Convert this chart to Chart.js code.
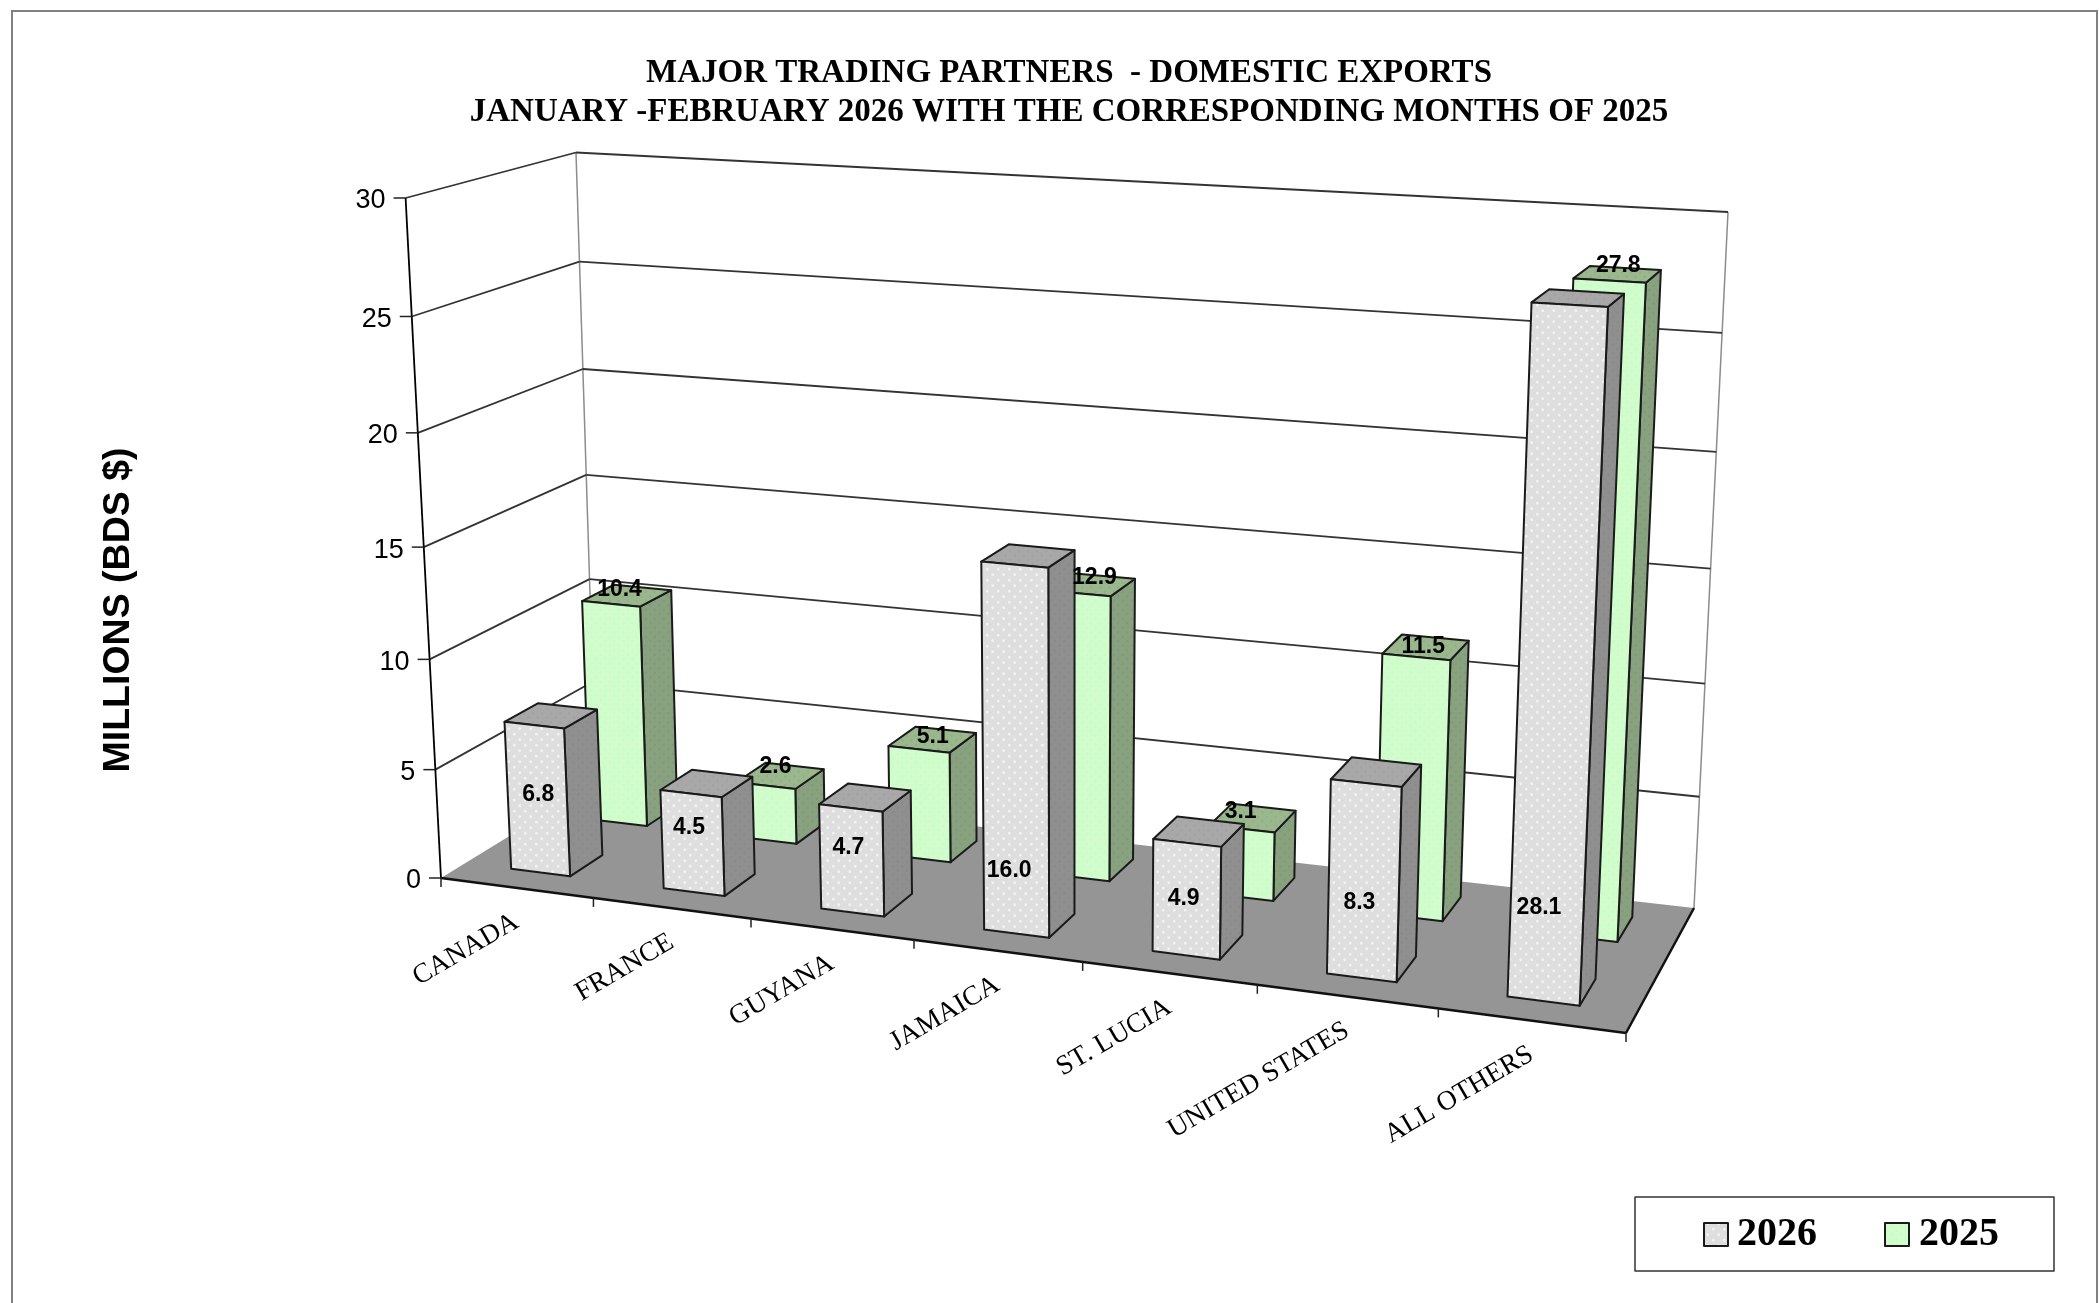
<!DOCTYPE html>
<html>
<head>
<meta charset="utf-8">
<style>
  html, body { margin: 0; padding: 0; background: #fff; overflow: hidden; }
  #c { display: block; }
</style>
<script src="https://cdn.jsdelivr.net/npm/chart.js@4"></script>
</head>
<body>
<canvas id="c" width="2099" height="1303"></canvas>
<script>
const categories = ['CANADA', 'FRANCE', 'GUYANA', 'JAMAICA', 'ST. LUCIA', 'UNITED STATES', 'ALL OTHERS']
const values2026 = [6.8, 4.5, 4.7, 16.0, 4.9, 8.3, 28.1]
const values2025 = [10.4, 2.6, 5.1, 12.9, 3.1, 11.5, 27.8]
const axisMax = 30, axisStep = 5
// the labels were placed by hand in the original, so they get their own offsets
const labelLift = [3.59, 2.97, 2.91, 2.79, 2.5, 3.25, 3.96]
const labelNudge2026 = [1, -3, -3, -7, -3, -4, -8]
const labelNudge2025 = [[-23, 1], [-19, 0], [-13, 6], [-9, 1], [-23, 4], [-12, 8], [-7, -3]]

const titleLines = ['MAJOR TRADING PARTNERS  - DOMESTIC EXPORTS', 'JANUARY -FEBRUARY 2026 WITH THE CORRESPONDING MONTHS OF 2025']
const yTitle = 'MILLIONS (BDS $)'

// screen corners of the 3D box: [left-bottom, right-bottom, right-top, left-top]
const frontCorners = [[441, 878], [1626, 1033], [1660, 269.5], [405.6, 198]]
const backCorners = [[596, 783], [1694, 908], [1728, 212], [576, 152.5]]
const depthK = 1.07

const homography = (q) => {
  const [[x0, y0], [x1, y1], [x2, y2], [x3, y3]] = q
  const dx1 = x1 - x2, dx2 = x3 - x2, sx = x0 - x1 + x2 - x3
  const dy1 = y1 - y2, dy2 = y3 - y2, sy = y0 - y1 + y2 - y3
  const den = dx1 * dy2 - dx2 * dy1
  const g = (sx * dy2 - dx2 * sy) / den, h = (dx1 * sy - sx * dy1) / den
  const a = x1 - x0 + g * x1, b = x3 - x0 + h * x3
  const d = y1 - y0 + g * y1, e = y3 - y0 + h * y3
  return (u, v) => {
    const n = g * u + h * v + 1
    return [(a * u + b * v + x0) / n, (d * u + e * v + y0) / n]
  }
}
const onFront = homography(frontCorners), onBack = homography(backCorners)

// u along the categories, v up the value axis, w into the depth, all 0..1
const project = (u, v, w) => {
  const f = onFront(u, v), b = onBack(u, v)
  const t = w * depthK / (1 - w + w * depthK)
  return [f[0] + (b[0] - f[0]) * t, f[1] + (b[1] - f[1]) * t]
}

const makePattern = (ctx, base, dot, size) => {
  const c = document.createElement('canvas')
  c.width = c.height = size
  const p = c.getContext('2d')
  p.fillStyle = base
  p.fillRect(0, 0, size, size)
  p.fillStyle = dot
  p.beginPath()
  p.arc(size * 0.25, size * 0.25, size * 0.13, 0, 7)
  p.arc(size * 0.75, size * 0.75, size * 0.13, 0, 7)
  p.fill()
  return ctx.createPattern(c, 'repeat')
}

const poly = (ctx, pts, fill, stroke, lw) => {
  ctx.beginPath()
  pts.forEach((p, i) => i ? ctx.lineTo(p[0], p[1]) : ctx.moveTo(p[0], p[1]))
  ctx.closePath()
  if (fill) { ctx.fillStyle = fill; ctx.fill() }
  if (stroke) { ctx.strokeStyle = stroke; ctx.lineWidth = lw; ctx.stroke() }
}
const line = (ctx, a, b, color, lw) => {
  ctx.beginPath()
  ctx.moveTo(a[0], a[1])
  ctx.lineTo(b[0], b[1])
  ctx.strokeStyle = color
  ctx.lineWidth = lw
  ctx.stroke()
}
const text = (ctx, str, x, y, font, align, rot) => {
  ctx.save()
  ctx.translate(x, y)
  if (rot) ctx.rotate(rot)
  ctx.font = font
  ctx.fillStyle = '#000'
  ctx.textAlign = align
  ctx.textBaseline = 'middle'
  ctx.fillText(str, 0, 0)
  ctx.restore()
}

const drawFrame = (chart, uOf, vOf) => {
  const ctx = chart.ctx
  const ys = chart.scales.y, xs = chart.scales.x
  poly(ctx, [[12, 1400], [12, 11], [2097, 11], [2097, 1400]], null, '#808080', 2)

  // floor
  poly(ctx, [project(0, 0, 0), project(1, 0, 0), project(1, 0, 1), project(0, 0, 1)], '#959595')

  // walls
  line(ctx, project(0, 0, 1), project(0, 1, 1), '#8c8c8c', 1.5)
  line(ctx, project(1, 0, 1), project(1, 1, 1), '#8c8c8c', 1.5)
  ys.ticks.forEach(t => {
    const v = vOf(ys.getPixelForValue(t.value))
    if (t.value > 0) {
      line(ctx, project(0, v, 0), project(0, v, 1), '#333', 1.8)
      line(ctx, project(0, v, 1), project(1, v, 1), '#333', 1.8)
    }
  })
  // value axis and its ticks
  line(ctx, project(0, 0, 0), project(0, 1, 0), '#000', 1.8)
  ys.ticks.forEach(t => {
    const p = project(0, vOf(ys.getPixelForValue(t.value)), 0)
    line(ctx, [p[0] - 12, p[1]], p, '#222', 1.5)
    text(ctx, String(t.value), p[0] - 20, p[1] + 3, '27px "Liberation Sans"', 'right')
  })
  // floor edges and category ticks
  line(ctx, project(0, 0, 0), project(1, 0, 0), '#111', 2.5)
  line(ctx, project(1, 0, 0), project(1, 0, 1), '#111', 2.5)
  const count = categories.length
  for (let i = 0; i <= count; i++) {
    const p = project(uOf(xs.left + i * xs.width / count), 0, 0)
    line(ctx, p, [p[0], p[1] + 9], '#222', 1.5)
  }
  xs.ticks.forEach((t, i) => {
    const p = project(uOf(xs.getPixelForValue(i)), 0, 0)
    text(ctx, categories[i], p[0], p[1] + 32, '27.5px "Liberation Serif"', 'right', -0.53)
  })
}

const drawBars = (chart, uOf, vOf, dsIndex, rowFront, rowBack, skin) => {
  const ctx = chart.ctx
  chart.getDatasetMeta(dsIndex).data.forEach(bar => {
    const l = uOf(bar.x - bar.width / 2), r = uOf(bar.x + bar.width / 2)
    const v0 = vOf(bar.base), v1 = vOf(bar.y)
    ctx.lineJoin = 'round'
    const lw = 2, ink = '#1a1a1a'
    poly(ctx, [project(r, v0, rowFront), project(r, v0, rowBack), project(r, v1, rowBack), project(r, v1, rowFront)], skin.side, ink, lw)
    poly(ctx, [project(l, v1, rowFront), project(r, v1, rowFront), project(r, v1, rowBack), project(l, v1, rowBack)], skin.top, ink, lw)
    poly(ctx, [project(l, v0, rowFront), project(r, v0, rowFront), project(r, v1, rowFront), project(l, v1, rowFront)], skin.front, ink, lw)
  })
}

const drawBarLabels = (chart, uOf, vOf, rows) => {
  const ctx = chart.ctx, ys = chart.scales.y
  const font = 'bold 23px "Liberation Sans"'
  chart.getDatasetMeta(1).data.forEach((bar, i) => {
    const l = uOf(bar.x - bar.width / 2), r = uOf(bar.x + bar.width / 2)
    const p = project((l + r) / 2, vOf(bar.y), rows[1][1])
    text(ctx, values2025[i].toFixed(1), p[0] + labelNudge2025[i][0], p[1] + 1 + labelNudge2025[i][1], font, 'center')
  })
  chart.getDatasetMeta(0).data.forEach((bar, i) => {
    const l = uOf(bar.x - bar.width / 2), r = uOf(bar.x + bar.width / 2)
    const p = project((l + r) / 2, vOf(ys.getPixelForValue(labelLift[i])), rows[0][0])
    text(ctx, values2026[i].toFixed(1), p[0] + labelNudge2026[i], p[1], font, 'center')
  })
}

const drawTexts = (chart, skins) => {
  const ctx = chart.ctx
  text(ctx, titleLines[0], 1069, 73, 'bold 33px "Liberation Serif"', 'center')
  text(ctx, titleLines[1], 1069, 112, 'bold 33px "Liberation Serif"', 'center')
  text(ctx, yTitle, 119, 610, 'bold 37.5px "Liberation Sans"', 'center', -Math.PI / 2)

  // legend
  poly(ctx, [[1635, 1197], [2054, 1197], [2054, 1271], [1635, 1271]], '#fff', '#333', 1.5)
  const slots = [[1704, 1737], [1885, 1919]]
  chart.data.datasets.forEach((ds, i) => {
    const x = slots[i][0]
    poly(ctx, [[x, 1223], [x + 24, 1223], [x + 24, 1246], [x, 1246]], skins[i].front, '#1a1a1a', 2)
    text(ctx, ds.label, slots[i][1], 1235, 'bold 40px "Liberation Serif"', 'left')
  })
}

const box3d = {
  id: 'box3d',
  afterDatasetsDraw(chart) {
    const area = chart.chartArea, ctx = chart.ctx
    const uOf = (px) => (px - area.left) / (area.right - area.left)
    const vOf = (py) => (area.bottom - py) / (area.bottom - area.top)
    const skins = [
      { front: makePattern(ctx, '#dedede', '#f2f2f2', 11), side: makePattern(ctx, '#8f8f8f', '#8a8a8a', 9), top: makePattern(ctx, '#a8a8a8', '#a2a2a2', 9) },
      { front: makePattern(ctx, '#ccffcc', '#e6edc4', 9), side: makePattern(ctx, '#88a27f', '#82997a', 9), top: makePattern(ctx, '#9ab78d', '#92ae86', 9) }
    ]
    const rows = [[0.15, 0.36], [0.66, 0.87]]
    drawFrame(chart, uOf, vOf)
    drawBars(chart, uOf, vOf, 1, rows[1][0], rows[1][1], skins[1])
    drawBars(chart, uOf, vOf, 0, rows[0][0], rows[0][1], skins[0])
    drawBarLabels(chart, uOf, vOf, rows)
    drawTexts(chart, skins)
  }
}

new Chart(document.getElementById('c'), {
  type: 'bar',
  data: {
    labels: categories,
    datasets: [
      { label: '2026', data: values2026, backgroundColor: 'transparent', grouped: false, barPercentage: 1, categoryPercentage: 0.39 },
      { label: '2025', data: values2025, backgroundColor: 'transparent', grouped: false, barPercentage: 1, categoryPercentage: 0.39 }
    ]
  },
  options: {
    responsive: false,
    animation: false,
    plugins: { legend: { display: false }, title: { display: false }, tooltip: { enabled: false } },
    scales: {
      x: { display: false, ticks: { autoSkip: false } },
      y: { display: false, min: 0, max: axisMax, ticks: { stepSize: axisStep } }
    }
  },
  plugins: [box3d]
})
</script>
</body>
</html>
